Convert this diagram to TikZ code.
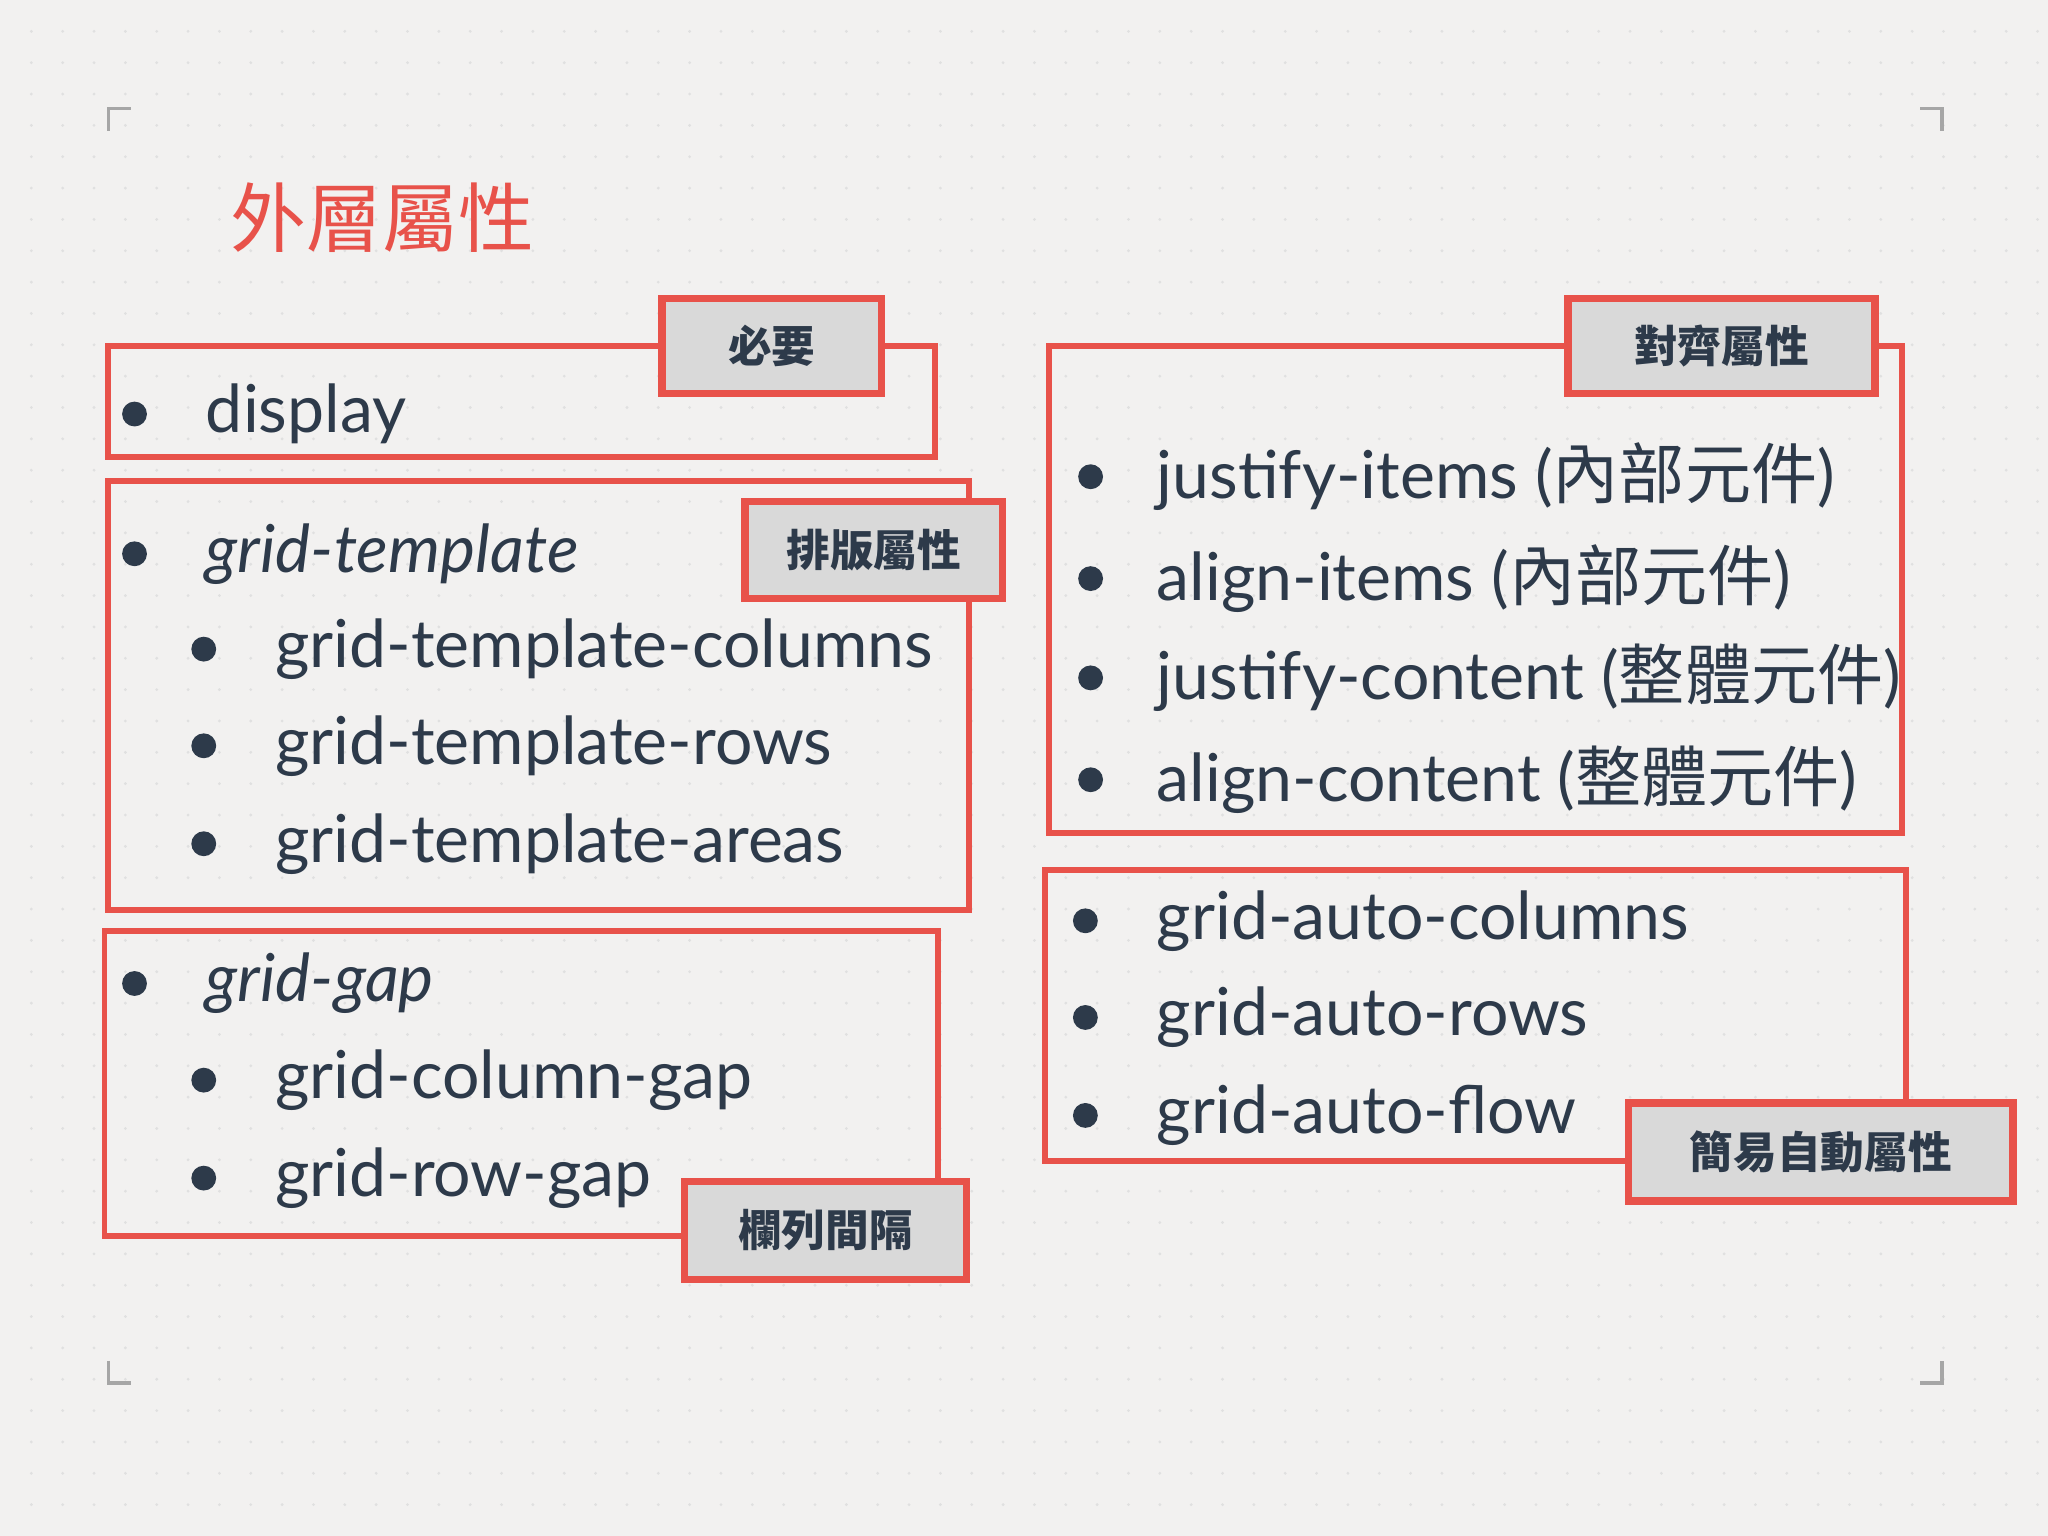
\documentclass[tikz,border=0pt]{standalone}
\usepackage{fontspec}
\setmainfont{Lato}
\newfontfamily\cjk{Noto Sans CJK TC}
\definecolor{redl}{HTML}{E8524A}
\definecolor{ink}{HTML}{2D3A4A}
\definecolor{bg}{HTML}{F2F1F0}
\definecolor{tagg}{HTML}{D9D9D9}
\begin{document}
\begin{tikzpicture}[x=0.01cm,y=-0.01cm,
  frame/.style={draw=redl,line width=1.3pt},
  tag/.style={draw=redl,line width=1.6pt,fill=tagg,text=ink,font=\cjk\bfseries\fontsize{9.5}{12}\selectfont,anchor=center},
  itm/.style={anchor=west,text=ink,font=\fontsize{14.4}{17}\selectfont,inner sep=0},
  dot/.style={circle,fill=ink,inner sep=0,minimum size=0.19cm}]
\useasboundingbox (0,0) rectangle (1568,1176);
\fill[bg] (0,0) rectangle (1568,1176);
\foreach \x in {24,48,...,1560}{\foreach \y in {24,48,...,1170}{\fill[black!12] (\x,\y) circle (0.012cm);}}
% corner marks
\draw[black!35,line width=0.8pt] (83,100)--(83,83)--(100,83);
\draw[black!35,line width=0.8pt] (1470,83)--(1487,83)--(1487,100);
\draw[black!35,line width=0.8pt] (83,1042)--(83,1059)--(100,1059);
\draw[black!35,line width=0.8pt] (1470,1059)--(1487,1059)--(1487,1042);
\node[anchor=west,text=redl,font=\cjk\fontsize{16.5}{20}\selectfont,inner sep=0] (title) at (176,167) {外層屬性};
% boxes
\draw[frame] (83,265) rectangle (716,350);
\draw[frame] (83,368) rectangle (742,697);
\draw[frame] (80,713) rectangle (718,946);
\draw[frame] (803,265) rectangle (1456,638);
\draw[frame] (800,666) rectangle (1459,889);
\node[tag,minimum width=1.68cm,minimum height=0.73cm] (t1) at (591,265) {必要};
\node[tag,minimum width=1.97cm,minimum height=0.74cm] (t2) at (669,421) {排版屬性};
\node[tag,minimum width=2.16cm,minimum height=0.75cm] (t3) at (632,942) {欄列間隔};
\node[tag,minimum width=2.35cm,minimum height=0.73cm] (t4) at (1318,265) {對齊屬性};
\node[tag,minimum width=2.94cm,minimum height=0.75cm] (t5) at (1394,882) {簡易自動屬性};
% items
\foreach \n/\x/\y/\t in {a/157/317/display, b/157/424/\itshape grid-template, c/157/753/\itshape grid-gap,
  d/885/705/grid-auto-columns, e/885/779/grid-auto-rows, f/885/854/grid-auto-flow}{
  \node[dot] (d\n) at (\x-54,\y) {}; \node[itm] (i\n) at (\x,\y) {\t};}
\foreach \n/\y/\t in {g/497/grid-template-columns, h/571/grid-template-rows, i/646/grid-template-areas,
  j/827/grid-column-gap, k/902/grid-row-gap}{
  \node[dot] (d\n) at (156,\y) {}; \node[itm] (i\n) at (210,\y) {\t};}
\foreach \n/\y/\t/\c in {l/365/justify-items/內部元件, m/443/align-items/內部元件, n/519/justify-content/整體元件, o/597/align-content/整體元件}{
  \node[dot] (d\n) at (835,\y) {}; \node[itm] (i\n) at (885,\y) {\t\ ({\cjk \c})};}
\end{tikzpicture}
\end{document}
